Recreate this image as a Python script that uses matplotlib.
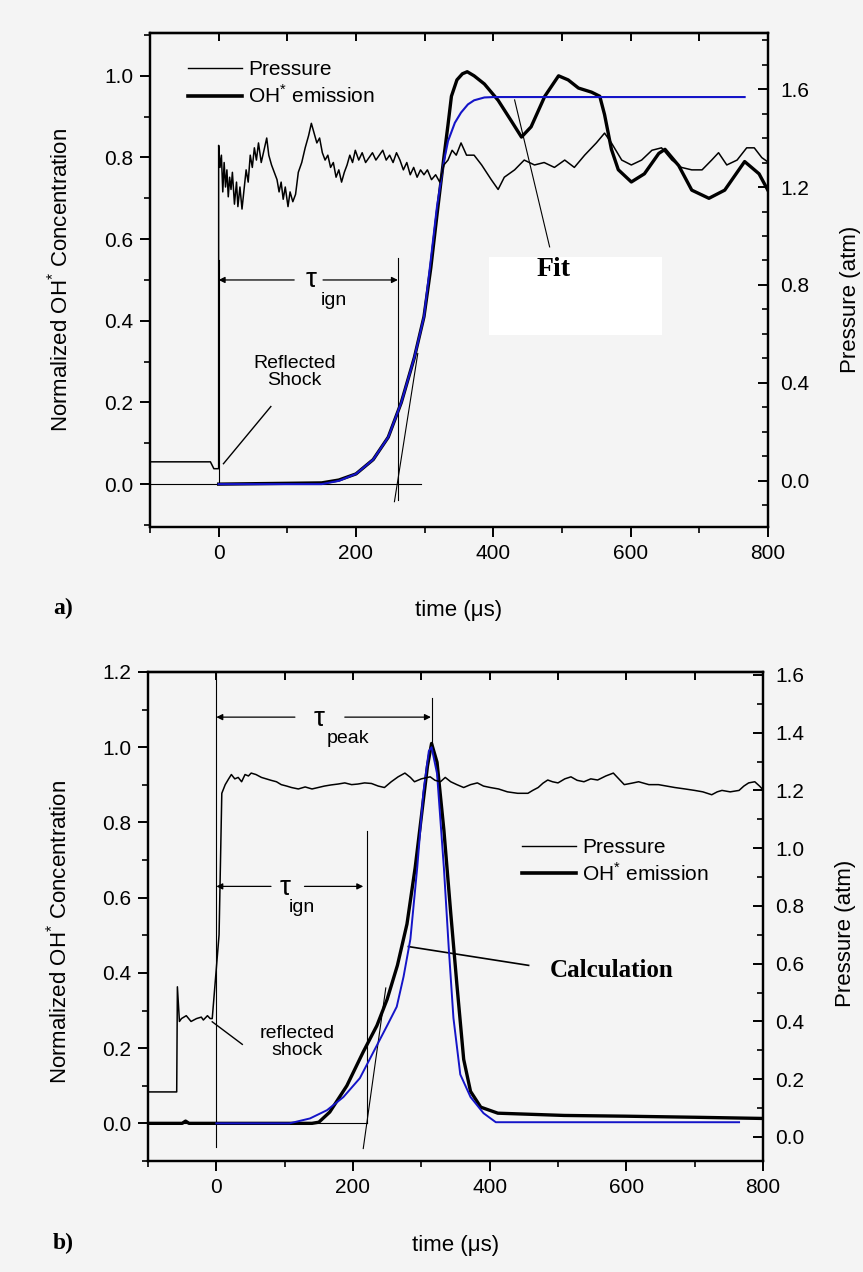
import numpy as np
import matplotlib.pyplot as plt
from matplotlib.lines import Line2D
from matplotlib.patches import Rectangle
from matplotlib.ticker import MultipleLocator

plt.rcParams['font.family'] = ['Liberation Sans', 'DejaVu Sans']
plt.rcParams['mathtext.fontset'] = 'custom'
plt.rcParams['mathtext.rm'] = 'Liberation Sans'

# ---------------- panel a) ----------------
TOP_P_T = [
    -100, -12, -7, 0, 0, 2, 4, 6, 8, 10,
    12, 14, 16, 18, 20, 23, 26, 28, 31, 34,
    37, 40, 43, 46, 49, 52, 55, 58, 62, 66,
    70, 73, 77, 81, 85, 88, 91, 94, 97, 101,
    104, 108, 112, 116, 121, 126, 131, 135, 139, 143,
    147, 151, 155, 159, 163, 167, 171, 175, 179, 183,
    187, 191, 195, 199, 204, 209, 214, 219, 224, 229,
    234, 239, 244, 249, 254, 259, 264, 269, 274, 279,
    284, 289, 294, 299, 304, 310, 316, 322, 328, 334,
    340, 346, 353, 361, 372, 383, 397, 407, 416, 431,
    445, 460, 474, 489, 504, 518, 533, 550, 562, 572,
    587, 601, 616, 631, 645, 660, 674, 689, 704, 718,
    728, 740, 755, 769, 780, 791, 801]
TOP_P = [
    0.078, 0.078, 0.05, 0.05, 1.37, 1.28, 1.33, 1.18, 1.30, 1.20,
    1.27, 1.16, 1.24, 1.19, 1.26, 1.13, 1.22, 1.12, 1.20, 1.11,
    1.19, 1.27, 1.22, 1.33, 1.28, 1.36, 1.31, 1.38, 1.30, 1.35,
    1.40, 1.33, 1.29, 1.26, 1.23, 1.18, 1.22, 1.15, 1.20, 1.12,
    1.18, 1.14, 1.17, 1.26, 1.30, 1.36, 1.41, 1.46, 1.42, 1.38,
    1.40, 1.34, 1.31, 1.33, 1.28, 1.30, 1.24, 1.27, 1.22, 1.26,
    1.29, 1.33, 1.30, 1.35, 1.31, 1.34, 1.30, 1.32, 1.34, 1.31,
    1.33, 1.35, 1.31, 1.33, 1.30, 1.34, 1.31, 1.27, 1.30, 1.25,
    1.28, 1.24, 1.27, 1.25, 1.27, 1.23, 1.25, 1.22, 1.29, 1.31,
    1.35, 1.33, 1.38, 1.33, 1.33, 1.29, 1.23, 1.19, 1.24, 1.27,
    1.31, 1.29, 1.30, 1.28, 1.31, 1.28, 1.33, 1.38, 1.42, 1.38,
    1.31, 1.29, 1.31, 1.35, 1.36, 1.31, 1.28, 1.27, 1.27, 1.31,
    1.34, 1.29, 1.31, 1.36, 1.36, 1.32, 1.30]

TOP_OH_T = [
    0, 150, 175, 200, 225, 247, 266, 285, 299,
    309, 318, 328, 334, 339, 347, 355, 362, 372, 387,
    407, 426, 441, 455, 475, 495, 509, 524, 543, 555,
    562, 572, 582, 601, 620, 641, 650, 670, 689, 714,
    737, 766, 787, 803]
TOP_OH = [
    0.0, 0.003, 0.01, 0.025, 0.06, 0.115, 0.2, 0.31, 0.41,
    0.53, 0.66, 0.80, 0.88, 0.95, 0.99, 1.005, 1.01, 1.0, 0.98,
    0.94, 0.89, 0.85, 0.875, 0.95, 1.0, 0.99, 0.97, 0.96, 0.95,
    0.905, 0.82, 0.77, 0.74, 0.76, 0.81, 0.82, 0.78, 0.72, 0.70,
    0.72, 0.79, 0.76, 0.71]

TOP_FIT_T = [0, 150, 175, 200, 225, 247, 266, 285, 299, 309,
             318, 328, 334, 344, 353, 363, 372, 387, 401, 766]
TOP_FIT = [0.0, 0.0, 0.008, 0.025, 0.06, 0.115, 0.2, 0.31, 0.41, 0.55,
           0.68, 0.79, 0.84, 0.885, 0.91, 0.93, 0.94, 0.947, 0.948, 0.948]

# ---------------- panel b) ----------------
BOT_P_T = [
    -100, -58, -57, -54, -51, -44, -37, -29, -22, -19,
    -13, -9, -6, 4, 8, 13, 18, 22, 27, 32,
    37, 42, 47, 51, 58, 66, 73, 80, 88, 95,
    103, 110, 120, 130, 140, 149, 158, 168, 178, 188,
    198, 207, 217, 227, 237, 246, 256, 266, 276, 284,
    290, 300, 313, 320, 328, 335, 343, 352, 362, 372,
    382, 391, 401, 413, 426, 441, 456, 463, 471, 478,
    485, 492, 500, 510, 519, 528, 538, 548, 558, 570,
    581, 589, 597, 608, 618, 633, 647, 659, 671, 686,
    700, 712, 725, 733, 740, 752, 765, 772, 779, 788,
    795, 801]
BOT_P = [
    0.156, 0.156, 0.52, 0.40, 0.41, 0.42, 0.40, 0.41, 0.415, 0.405,
    0.42, 0.41, 0.41, 0.70, 1.19, 1.22, 1.24, 1.255, 1.24, 1.245,
    1.23, 1.255, 1.25, 1.26, 1.255, 1.245, 1.24, 1.235, 1.23, 1.22,
    1.215, 1.21, 1.205, 1.212, 1.205, 1.21, 1.215, 1.219, 1.222, 1.226,
    1.22, 1.222, 1.226, 1.224, 1.215, 1.21, 1.23, 1.247, 1.26, 1.245,
    1.23, 1.24, 1.247, 1.235, 1.23, 1.245, 1.23, 1.22, 1.21, 1.22,
    1.226, 1.215, 1.21, 1.205, 1.195, 1.19, 1.19, 1.20, 1.21, 1.225,
    1.236, 1.23, 1.226, 1.24, 1.247, 1.235, 1.23, 1.24, 1.236, 1.25,
    1.26, 1.24, 1.22, 1.225, 1.23, 1.22, 1.22, 1.215, 1.21, 1.205,
    1.20, 1.195, 1.185, 1.195, 1.20, 1.195, 1.20, 1.215, 1.226, 1.23,
    1.215, 1.20]

BOT_OH_T = [-100, -50, -45, -40, 0, 140, 150, 166, 191, 215,
            235, 250, 265, 279, 291, 301, 309, 315, 323, 333,
            343, 352, 362, 372, 387, 412, 509, 600, 706, 800]
BOT_OH = [0.0, 0.0, 0.006, 0.0, 0.0, 0.0, 0.003, 0.03, 0.10, 0.19,
          0.26, 0.33, 0.42, 0.53, 0.68, 0.83, 0.95, 1.01, 0.96, 0.78,
          0.56, 0.37, 0.17, 0.085, 0.043, 0.027, 0.021, 0.019, 0.016, 0.013]

BOT_CALC_T = [0, 107, 137, 162, 186, 210, 230, 250, 264, 274,
              284, 294, 303, 311, 315, 323, 333, 340, 347, 357,
              372, 391, 409, 765]
BOT_CALC = [0.0, 0.0, 0.013, 0.035, 0.07, 0.12, 0.19, 0.26, 0.31, 0.39,
            0.49, 0.68, 0.88, 0.99, 1.0, 0.93, 0.68, 0.47, 0.28, 0.13,
            0.07, 0.027, 0.003, 0.003]

XTICKS = [0, 200, 400, 600, 800]
BG = '#f4f4f4'
BLUE = '#1414c8'
OH_LABEL = r'$\mathrm{OH}^{*}$'


def setup_panel(fig, rect, ylim_left, ylim_right, right_major):
    ax = fig.add_axes(rect)
    ax.set_facecolor('none')
    ax.set_xlim(-100, 800)
    ax.set_ylim(*ylim_left)
    ax.set_xticks(XTICKS)
    ax.xaxis.set_minor_locator(MultipleLocator(100))
    ax.yaxis.set_major_locator(MultipleLocator(0.2))
    ax.yaxis.set_minor_locator(MultipleLocator(0.1))
    ax.tick_params(which='major', direction='out', length=7, width=1.4,
                   labelsize=15, pad=5)
    ax.tick_params(which='minor', direction='out', length=4.5, width=1.2)
    for sp in ax.spines.values():
        sp.set_linewidth(1.6)

    top = ax.secondary_xaxis('top')
    top.set_xticks(np.arange(0, 801, 100))
    top.tick_params(direction='in', length=6, width=1.4, labeltop=False)
    top.spines['top'].set_linewidth(1.6)

    ax2 = ax.twinx()
    ax2.set_ylim(*ylim_right)
    ax2.yaxis.set_major_locator(MultipleLocator(right_major))
    ax2.yaxis.set_minor_locator(MultipleLocator(0.1))
    ax2.tick_params(axis='y', which='major', direction='in', length=7,
                    width=1.4, labelsize=15, pad=9)
    ax2.tick_params(axis='y', which='minor', direction='in', length=4.5,
                    width=1.2)
    for sp in ax2.spines.values():
        sp.set_linewidth(1.6)

    ax.set_xlabel('time (μs)', fontsize=16)
    ax.set_ylabel(f'Normalized {OH_LABEL} Concentration', fontsize=16)
    ax2.set_ylabel('Pressure (atm)', fontsize=16)
    return ax, ax2


def tau_arrow(ax, y, t_end, gap):
    kw = dict(arrowstyle='-|>', lw=0.9, color='k', mutation_scale=9,
              shrinkA=0, shrinkB=0)
    ax.annotate('', xy=(0, y), xytext=(gap[0], y), arrowprops=kw)
    ax.annotate('', xy=(t_end, y), xytext=(gap[1], y), arrowprops=kw)


def legend(ax, anchor):
    handles = [Line2D([], [], color='k', lw=1.0),
               Line2D([], [], color='k', lw=2.6)]
    ax.legend(handles, ['Pressure', f'{OH_LABEL} emission'], loc='center left',
              bbox_to_anchor=anchor, frameon=False, fontsize=15,
              handlelength=2.6, handletextpad=0.3, labelspacing=0.25,
              borderpad=0, borderaxespad=0)


def main():
    fig = plt.figure(figsize=(8.63, 12.72), dpi=100, facecolor=BG)
    thin = dict(color='k', lw=0.8)

    # ---- panel a ----
    ax, ax2 = setup_panel(fig, [0.1738, 0.5857, 0.7161, 0.3884],
                          (-0.105, 1.105), (-0.188, 1.829), 0.4)
    ax.xaxis.set_label_coords(0.5, -0.148)
    ax.yaxis.set_label_coords(-0.126, 0.5)
    ax2.yaxis.set_label_coords(1.117, 0.46)

    ax.plot(TOP_OH_T, TOP_OH, color='k', lw=2.4, zorder=3)
    ax.plot(TOP_FIT_T, TOP_FIT, color=BLUE, lw=1.5, zorder=4)
    ax2.plot(TOP_P_T, TOP_P, color='k', lw=1.1)

    ax.plot([-100, 295], [0, 0], **thin)
    ax.plot([0, 0], [0, 0.55], **thin)
    ax.plot([261, 261], [-0.04, 0.553], **thin)
    ax.plot([256, 290], [-0.043, 0.32], **thin)
    tau_arrow(ax, 0.50, 261, (110, 152))
    ax.text(134, 0.50, 'τ', fontsize=20, ha='center', va='center')
    ax.text(168, 0.45, 'ign', fontsize=14, ha='center', va='center')
    ax.text(110, 0.275, 'Reflected\nShock', fontsize=14, ha='center',
            va='center', linespacing=1.0)
    ax.plot([76, 7], [0.19, 0.05], color='k', lw=1.0)
    ax.add_patch(Rectangle((394, 0.365), 251, 0.191, facecolor='white',
                           edgecolor='none', zorder=5))
    ax.plot([482, 431], [0.581, 0.941], **thin)
    ax.text(488, 0.525, 'Fit', fontsize=20, family='Liberation Serif',
            weight='bold', ha='center', va='center', zorder=6)
    legend(ax2, (0.0615, 0.897))
    fig.text(63 / 863, 1 - 608 / 1272, 'a)', fontsize=17,
             family='Liberation Serif', weight='bold', ha='center', va='center')

    # ---- panel b ----
    bx, bx2 = setup_panel(fig, [0.1715, 0.0873, 0.7126, 0.3844],
                          (-0.1, 1.2), (-0.083, 1.61), 0.2)
    bx.xaxis.set_label_coords(0.5, -0.151)
    bx.yaxis.set_label_coords(-0.124, 0.468)
    bx2.yaxis.set_label_coords(1.117, 0.466)

    bx.plot(BOT_OH_T, BOT_OH, color='k', lw=2.4, zorder=3)
    bx.plot(BOT_CALC_T, BOT_CALC, color=BLUE, lw=1.4, zorder=4)
    bx2.plot(BOT_P_T, BOT_P, color='k', lw=1.1)

    bx.plot([-100, 220], [0, 0], **thin)
    bx.plot([0, 0], [-0.064, 1.2], **thin)
    bx.plot([220, 220], [0, 0.777], **thin)
    bx.plot([316, 316], [1.0, 1.13], **thin)
    bx.plot([215, 248], [-0.067, 0.36], **thin)
    tau_arrow(bx, 1.08, 314, (115, 188))
    bx.text(151, 1.075, 'τ', fontsize=20, ha='center', va='center')
    bx.text(193, 1.024, 'peak', fontsize=14, ha='center', va='center')
    tau_arrow(bx, 0.63, 215, (80, 129))
    bx.text(100, 0.625, 'τ', fontsize=20, ha='center', va='center')
    bx.text(125, 0.575, 'ign', fontsize=14, ha='center', va='center')
    bx.text(118, 0.215, 'reflected\nshock', fontsize=14, ha='center',
            va='center', linespacing=1.0)
    bx.plot([-6, 38], [0.27, 0.21], color='k', lw=1.0)
    bx.plot([281, 457], [0.47, 0.42], color='k', lw=1.2)
    bx.text(579, 0.407, 'Calculation', fontsize=18, family='Liberation Serif',
            weight='bold', ha='center', va='center')
    legend(bx2, (0.608, 0.613))
    fig.text(63 / 863, 1 - 1243 / 1272, 'b)', fontsize=17,
             family='Liberation Serif', weight='bold', ha='center', va='center')

    fig.savefig('out.png', dpi=100, facecolor=BG)


if __name__ == '__main__':
    main()
